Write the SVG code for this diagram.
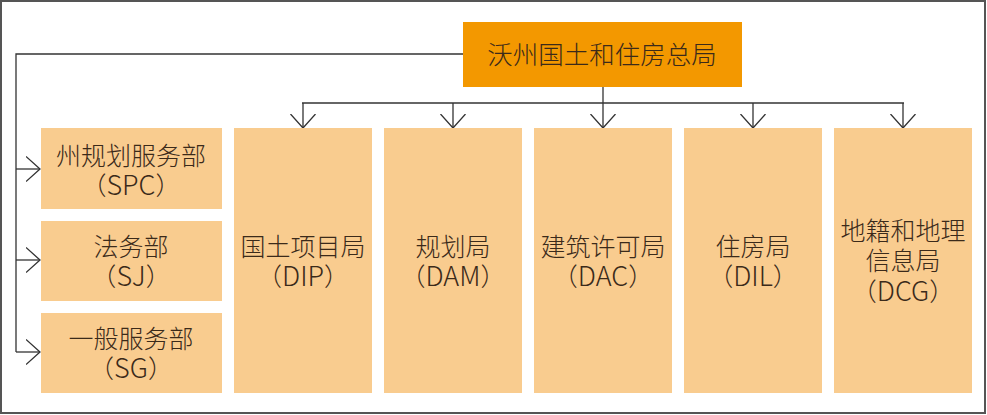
<svg xmlns="http://www.w3.org/2000/svg" width="987" height="415" viewBox="0 0 987 415">
<style>
.bg{fill:#ffffff}
.frame{fill:none;stroke:#555;stroke-width:2}
.top{fill:#F39800}
.box{fill:#F9CC8F}
.t{font-family:"Noto Sans CJK SC","Noto Sans",sans-serif;font-size:25px;font-weight:300;fill:#3b2a1a;text-anchor:middle}
.tt{font-family:"Noto Sans CJK SC","Noto Sans",sans-serif;font-size:25.5px;font-weight:300;fill:#3b2a1a;text-anchor:middle}
.l{font-size:27px}
.c{fill:none;stroke:#333;stroke-width:1.3}
</style>
<defs>
<marker id="ah" viewBox="0 0 15 26" refX="14" refY="13" markerWidth="15" markerHeight="26" markerUnits="userSpaceOnUse" orient="auto">
<path d="M0,0.5 L14,13 L0,25.5" fill="none" stroke="#333" stroke-width="1.3"/>
</marker>
</defs>
<rect class="bg" x="0" y="0" width="987" height="415"/>
<rect class="frame" x="1" y="1" width="984" height="412"/>
<g id="connectors">
<polyline class="c" points="463,54 16,54 16,352"/>
<line class="c" x1="16" y1="169" x2="40" y2="169" marker-end="url(#ah)"/>
<line class="c" x1="16" y1="260" x2="40" y2="260" marker-end="url(#ah)"/>
<line class="c" x1="16" y1="352" x2="40" y2="352" marker-end="url(#ah)"/>
<line class="c" x1="603" y1="87" x2="603" y2="103"/>
<line class="c" x1="302" y1="103" x2="904" y2="103"/>
<line class="c" x1="303" y1="103" x2="303" y2="128" marker-end="url(#ah)"/>
<line class="c" x1="453" y1="103" x2="453" y2="128" marker-end="url(#ah)"/>
<line class="c" x1="603" y1="103" x2="603" y2="128" marker-end="url(#ah)"/>
<line class="c" x1="753" y1="103" x2="753" y2="128" marker-end="url(#ah)"/>
<line class="c" x1="903" y1="103" x2="903" y2="128" marker-end="url(#ah)"/>
</g>
<g id="n-top">
<rect class="top" x="463" y="22" width="279" height="65"/>
<text class="tt" x="602" y="64">沃州国土和住房总局</text>
</g>
<g id="n-spc">
<rect class="box" x="41" y="128" width="181" height="81"/>
<text class="t" x="131" y="165">州规划服务部</text>
<text class="t" x="131" y="195">（<tspan class="l">SPC</tspan>）</text>
</g>
<g id="n-sj">
<rect class="box" x="41" y="221" width="181" height="80"/>
<text class="t" x="131" y="256">法务部</text>
<text class="t" x="131" y="286">（<tspan class="l">SJ</tspan>）</text>
</g>
<g id="n-sg">
<rect class="box" x="41" y="313" width="181" height="80"/>
<text class="t" x="131" y="348">一般服务部</text>
<text class="t" x="131" y="378">（<tspan class="l">SG</tspan>）</text>
</g>
<g id="n-dip">
<rect class="box" x="234" y="128" width="138" height="265"/>
<text class="t" x="303" y="256">国土项目局</text>
<text class="t" x="303" y="286">（<tspan class="l">DIP</tspan>）</text>
</g>
<g id="n-dam">
<rect class="box" x="384" y="128" width="138" height="265"/>
<text class="t" x="453" y="256">规划局</text>
<text class="t" x="453" y="286">（<tspan class="l">DAM</tspan>）</text>
</g>
<g id="n-dac">
<rect class="box" x="534" y="128" width="138" height="265"/>
<text class="t" x="603" y="256">建筑许可局</text>
<text class="t" x="603" y="286">（<tspan class="l">DAC</tspan>）</text>
</g>
<g id="n-dil">
<rect class="box" x="684" y="128" width="138" height="265"/>
<text class="t" x="753" y="256">住房局</text>
<text class="t" x="753" y="286">（<tspan class="l">DIL</tspan>）</text>
</g>
<g id="n-dcg">
<rect class="box" x="834" y="128" width="138" height="265"/>
<text class="t" x="903" y="240">地籍和地理</text>
<text class="t" x="903" y="270">信息局</text>
<text class="t" x="903" y="301">（<tspan class="l">DCG</tspan>）</text>
</g>
</svg>
